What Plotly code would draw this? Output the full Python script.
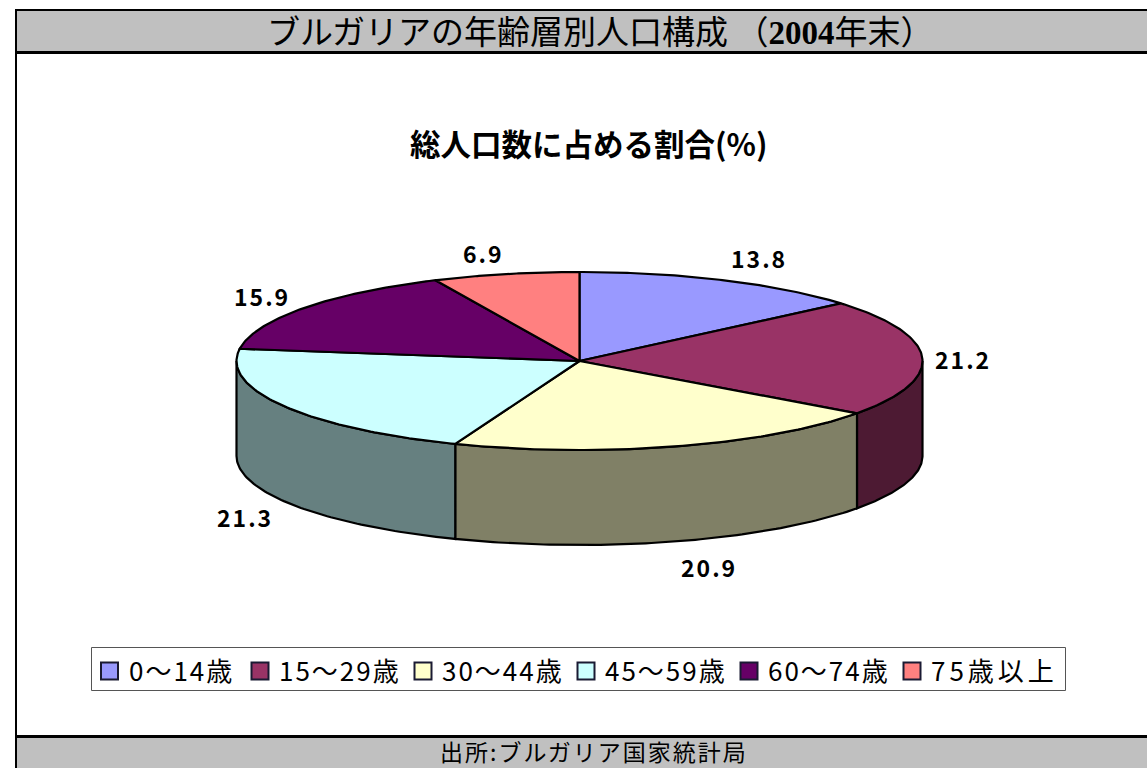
import numpy as np
import plotly.graph_objects as go

# --- data ---
CATEGORIES = ["0～14歳", "15～29歳", "30～44歳", "45～59歳", "60～74歳", "75歳以上"]
VALUES = [13.8, 21.2, 20.9, 21.3, 15.9, 6.9]
VALUE_LABELS = ["13.8", "21.2", "20.9", "21.3", "15.9", "6.9"]
COLORS = ["#9999FF", "#993366", "#FFFFCC", "#CCFFFF", "#660066", "#FF8080"]
WALL_COLORS = ["#4D4D80", "#4D1A33", "#808066", "#668080", "#330033", "#804040"]

TITLE_BEFORE = "ブルガリアの年齢層別人口構成 （"
TITLE_YEAR = "2004"
TITLE_AFTER = "年末）"
SUBTITLE = "総人口数に占める割合(%)"
SOURCE = "出所:ブルガリア国家統計局"

# --- layout (pixel coordinates of the page) ---
W, H = 1147, 768
CX, CY, RX, RY, DEPTH = 579.5, 361, 343, 89, 95
LABEL_X = [759, 963, 709, 245, 262, 483]
LABEL_Y = [258, 359, 567, 517, 296, 253]
LEG_SW_X = [109.5, 260, 423, 586, 749, 912]
LEG_TXT_X = [127, 277, 440, 603, 766, 929]
LEG_SPACING = [2, 2, 2, 2, 2, 4]
LEG_Y = 671
JP = "Noto Sans CJK JP"
GOTHIC = "Noto Sans CJK JP"


def ell(deg):
    t = np.radians(deg)
    return CX + RX * np.sin(t), CY - RY * np.cos(t)


fig = go.Figure()
edges = np.concatenate([[0], np.cumsum(VALUES)]) / sum(VALUES) * 360

# side walls (front half only)
for i in range(len(VALUES)):
    a, b = max(edges[i], 90), min(edges[i + 1], 270)
    if a >= b:
        continue
    th = np.linspace(a, b, 80)
    x, y = ell(th)
    fig.add_trace(go.Scatter(
        x=np.concatenate([x, x[::-1], x[:1]]),
        y=np.concatenate([y, y[::-1] + DEPTH, y[:1]]),
        mode="lines", fill="toself", fillcolor=WALL_COLORS[i],
        line=dict(color="black", width=2.2), hoverinfo="skip", showlegend=False))

# top faces
for i in range(len(VALUES)):
    th = np.linspace(edges[i], edges[i + 1], 100)
    x, y = ell(th)
    fig.add_trace(go.Scatter(
        x=np.concatenate([[CX], x, [CX]]),
        y=np.concatenate([[CY], y, [CY]]),
        mode="lines", fill="toself", fillcolor=COLORS[i],
        line=dict(color="black", width=2.2), name=CATEGORIES[i],
        hoverinfo="name", showlegend=False))

# legend swatches
for i, cat in enumerate(CATEGORIES):
    fig.add_trace(go.Scatter(
        x=[LEG_SW_X[i]], y=[LEG_Y], mode="markers", name=cat, showlegend=False,
        marker=dict(symbol="square", size=17, color=COLORS[i],
                    line=dict(color="#1a1a33", width=2)),
        hoverinfo="name"))

shapes = [
    dict(type="rect", x0=16, x1=W + 5, y0=10, y1=52.5, fillcolor="#C0C0C0",
         line=dict(width=0), layer="below"),
    dict(type="rect", x0=16, x1=W + 5, y0=736.5, y1=H + 5, fillcolor="#C0C0C0",
         line=dict(width=0), layer="below"),
    dict(type="rect", x0=15, x1=17, y0=9, y1=H + 5, fillcolor="black", line=dict(width=0), layer="below"),
    dict(type="rect", x0=15, x1=W + 5, y0=9, y1=11, fillcolor="black", line=dict(width=0), layer="below"),
    dict(type="rect", x0=15, x1=W + 5, y0=51, y1=54, fillcolor="black", line=dict(width=0), layer="below"),
    dict(type="rect", x0=15, x1=W + 5, y0=735, y1=738, fillcolor="black", line=dict(width=0), layer="below"),
    dict(type="rect", x0=91.5, x1=1065.5, y0=647.5, y1=690.5, fillcolor="white",
         line=dict(color="#555555", width=1), layer="below"),
]

ann = []


def text(x, y, s, size, anchor="center", family=JP, color="black"):
    ann.append(dict(x=x, y=y, xref="x", yref="y", text=s, showarrow=False, xanchor=anchor,
                    yanchor="middle", font=dict(family=family, size=size, color=color)))


text(600, 30, TITLE_BEFORE
     + f'<span style="font-family:Liberation Serif;font-weight:bold">{TITLE_YEAR}</span>'
     + TITLE_AFTER, 33)
text(588, 143, f"<b>{SUBTITLE}</b>", 30.5)
text(594, 751, f'<span style="letter-spacing:2px">{SOURCE}</span>', 23)
for i, lab in enumerate(VALUE_LABELS):
    text(LABEL_X[i], LABEL_Y[i],
         f'<span style="letter-spacing:2px;font-weight:bold">{lab}</span>', 23, family=GOTHIC)
for i, cat in enumerate(CATEGORIES):
    text(LEG_TXT_X[i], LEG_Y - 2, f'<span style="letter-spacing:{LEG_SPACING[i]}px">{cat}</span>', 26,
         anchor="left", family=GOTHIC)

fig.update_layout(
    width=W, height=H, margin=dict(l=0, r=0, t=0, b=0),
    paper_bgcolor="white", plot_bgcolor="white", showlegend=False,
    xaxis=dict(range=[0, W], visible=False, fixedrange=True),
    yaxis=dict(range=[H, 0], visible=False, fixedrange=True),
    shapes=shapes, annotations=ann,
)
fig.write_html("out.html", config=dict(displayModeBar=False),
               post_script="document.body.style.margin='0';document.body.style.overflow='hidden';")
